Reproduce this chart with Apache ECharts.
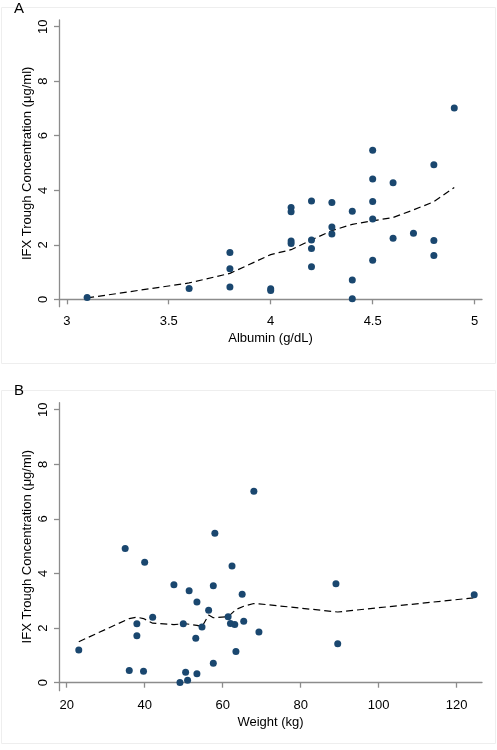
<!DOCTYPE html>
<html>
<head>
<meta charset="utf-8">
<script src="https://cdn.jsdelivr.net/npm/echarts@6/dist/echarts.min.js"></script>
<style>html,body{margin:0;padding:0;background:#fff;}#c{width:497px;height:750px;}</style>
</head>
<body>
<div id="c"></div>
<script>
// Panel A: Albumin vs IFX trough
const albuminX = [3.1, 3.6, 3.8, 3.8, 3.8, 4.0, 4.0, 4.1, 4.1, 4.1, 4.1, 4.2, 4.2, 4.2, 4.2, 4.3, 4.3, 4.3, 4.4, 4.4, 4.4, 4.5, 4.5, 4.5, 4.5, 4.5, 4.6, 4.6, 4.7, 4.8, 4.8, 4.8, 4.9];
const albuminY = [0.07, 0.40, 1.72, 1.12, 0.45, 0.39, 0.32, 3.37, 3.21, 2.14, 2.05, 3.61, 2.18, 1.86, 1.19, 3.55, 2.65, 2.40, 3.23, 0.71, 0.02, 5.47, 4.41, 3.59, 2.95, 1.43, 4.28, 2.24, 2.42, 4.94, 2.16, 1.61, 7.02];
const lowessAX = [3.1, 3.6, 3.8, 4.0, 4.1, 4.2, 4.3, 4.4, 4.5, 4.6, 4.7, 4.8, 4.9];
const lowessAY = [0.05, 0.60, 0.95, 1.64, 1.82, 2.18, 2.52, 2.75, 2.88, 3.00, 3.28, 3.58, 4.10];

// Panel B: Weight vs IFX trough
const weightX = [35.0, 40.0, 23.1, 36.05, 39.7, 38.0, 38.0, 42.05, 47.5, 49.9, 50.5, 49.05, 51.0, 51.4, 53.4, 53.1, 53.4, 54.7, 56.4, 57.6, 57.6, 58.0, 62.4, 61.4, 62.0, 63.1, 63.4, 65.0, 65.4, 69.3, 89.05, 89.5, 124.5, 68.0];
const weightY = [4.92, 4.41, 1.20, 0.45, 0.42, 2.16, 1.72, 2.40, 3.59, 2.16, 0.38, 0.01, 0.09, 3.37, 2.96, 1.63, 0.33, 2.04, 2.65, 3.55, 0.71, 5.47, 4.27, 2.42, 2.17, 2.13, 1.14, 3.24, 2.25, 1.86, 3.62, 1.43, 3.22, 7.01];
const lowessBX = [23.1, 36.05, 38.0, 39.7, 42.05, 47.5, 50.5, 53.4, 54.7, 56.4, 57.6, 61.4, 62.4, 63.4, 65.4, 68.0, 69.3, 89.5, 124.5];
const lowessBY = [1.50, 2.35, 2.40, 2.35, 2.18, 2.13, 2.16, 2.10, 2.05, 2.48, 2.38, 2.42, 2.55, 2.68, 2.80, 2.90, 2.89, 2.59, 3.11];

const xTicksA = [3, 3.5, 4, 4.5, 5];
const xTicksB = [20, 40, 60, 80, 100, 120];
const yTicks = [0, 2, 4, 6, 8, 10];

const yTitle = 'IFX Trough Concentration (\u03bcg/ml)';
const xTitleA = 'Albumin (g/dL)';
const xTitleB = 'Weight (kg)';

const FONT = 'Liberation Sans, Arial, sans-serif';
const axisCol = '#8c8c8c';
const dotCol = '#1a476f';

function zip(a, b) { return a.map((v, i) => [v, b[i]]); }

function xAxis(gi, min, max, ticks, name) {
  return {
    type: 'value', gridIndex: gi, min: min, max: max, name: name,
    nameLocation: 'middle', nameGap: 25,
    nameTextStyle: { color: '#000', fontSize: 13, fontFamily: FONT },
    axisLine: { show: true, lineStyle: { color: axisCol, width: 1.3 } },
    axisTick: { show: true, length: 5, customValues: ticks, lineStyle: { color: axisCol, width: 1.3 } },
    axisLabel: { customValues: ticks, color: '#000', fontSize: 13, fontFamily: FONT, margin: 8 },
    splitLine: { show: false }
  };
}
function yAxis(gi, min, max) {
  return {
    type: 'value', gridIndex: gi, min: min, max: max, name: yTitle,
    nameLocation: 'middle', nameGap: 25, nameRotate: 90, nameMoveOverlap: false,
    nameTextStyle: { color: '#000', fontSize: 13, fontFamily: FONT },
    axisLine: { show: true, lineStyle: { color: axisCol, width: 1.3 } },
    axisTick: { show: true, length: 5, customValues: yTicks, lineStyle: { color: axisCol, width: 1.3 } },
    axisLabel: { customValues: yTicks, rotate: 90, color: '#000', fontSize: 13, fontFamily: FONT, margin: 9 },
    splitLine: { show: false }
  };
}

const chart = echarts.init(document.getElementById('c'), null, { renderer: 'canvas' });
chart.setOption({
  animation: false,
  backgroundColor: '#fff',
  graphic: [
    { type: 'rect', shape: { x: 1.5, y: 7.5, width: 494, height: 356 }, style: { fill: 'none', stroke: '#eeeeee', lineWidth: 1 }, z: -1 },
    { type: 'rect', shape: { x: 1.5, y: 390.5, width: 494, height: 353 }, style: { fill: 'none', stroke: '#eeeeee', lineWidth: 1 }, z: -1 },
    { type: 'text', left: 14, top: 1, style: { text: 'A', fontSize: 15, fontFamily: FONT, fill: '#000' } },
    { type: 'text', left: 14, top: 383, style: { text: 'B', fontSize: 15, fontFamily: FONT, fill: '#000' } }
  ],
  grid: [
    { left: 59, top: 20, width: 423, height: 286.7 },
    { left: 59, top: 402.7, width: 423, height: 288 }
  ],
  xAxis: [
    xAxis(0, 2.962, 5.036, xTicksA, xTitleA),
    xAxis(1, 18.03, 126.5, xTicksB, xTitleB)
  ],
  yAxis: [
    yAxis(0, -0.271, 10.246),
    yAxis(1, -0.293, 10.256)
  ],
  series: [
    { type: 'scatter', xAxisIndex: 0, yAxisIndex: 0, data: zip(albuminX, albuminY), symbol: 'circle', symbolSize: 7, itemStyle: { color: dotCol, opacity: 1 }, z: 3 },
    { type: 'line', xAxisIndex: 0, yAxisIndex: 0, data: zip(lowessAX, lowessAY), symbol: 'none', lineStyle: { color: '#000', width: 1.2, type: [7, 4] }, z: 2 },
    { type: 'scatter', xAxisIndex: 1, yAxisIndex: 1, data: zip(weightX, weightY), symbol: 'circle', symbolSize: 7, itemStyle: { color: dotCol, opacity: 1 }, z: 3 },
    { type: 'line', xAxisIndex: 1, yAxisIndex: 1, data: zip(lowessBX, lowessBY), symbol: 'none', lineStyle: { color: '#000', width: 1.2, type: [7, 4] }, z: 2 }
  ]
});
</script>
</body>
</html>
